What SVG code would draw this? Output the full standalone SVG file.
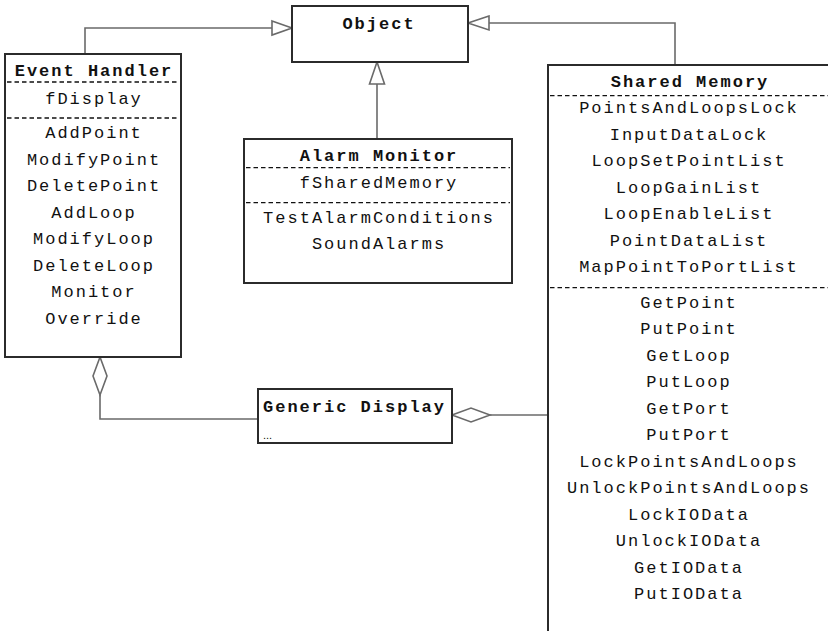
<svg xmlns="http://www.w3.org/2000/svg" width="828" height="631" viewBox="0 0 828 631">
  <style>
    .box { fill: #ffffff; stroke: #2b2b2b; stroke-width: 2; }
    .sep { stroke: #111111; stroke-width: 1.3; stroke-dasharray: 4.5 3; }
    .conn { fill: none; stroke: #6a6a6a; stroke-width: 1.6; }
    .head { fill: #ffffff; stroke: #6a6a6a; stroke-width: 1.6; stroke-linejoin: miter; }
    text { font-family: "Liberation Mono", "DejaVu Sans Mono", monospace; font-size: 17px; letter-spacing: 2px; fill: #111111; }
    .title { font-weight: bold; }
    .c { text-anchor: middle; }
    .etc { font-family: "Liberation Sans", Arial, sans-serif; font-size: 11px; letter-spacing: 0; }
  </style>
  <rect x="0" y="0" width="828" height="631" fill="#ffffff"/>

  <!-- connectors: generalizations to Object and aggregations to Generic Display -->
  <g id="connectors">
    <polyline class="conn" points="85,54 85,28 272,28"/>
    <polygon class="head" points="272,21 292,28 272,35"/>

    <polyline class="conn" points="489,23 675,23 675,65"/>
    <polygon class="head" points="489,16 468,23 489,30"/>

    <line class="conn" x1="377" y1="84" x2="377" y2="139"/>
    <polygon class="head" points="369.5,84 377,62 384.5,84"/>

    <polyline class="conn" points="100,395 100,419 258,419"/>
    <polygon class="head" points="100,357 107,376 100,395 93,376"/>

    <line class="conn" x1="490" y1="415" x2="548" y2="415"/>
    <polygon class="head" points="452,415 471,408 490,415 471,422"/>
  </g>

  <!-- Object -->
  <g id="object">
    <rect class="box" x="292" y="6" width="176" height="56"/>
    <text class="title c" x="379" y="28.5">Object</text>
  </g>

  <!-- Event Handler -->
  <g id="event-handler">
    <rect class="box" x="5" y="54" width="176" height="303"/>
    <text class="title c" x="94" y="76">Event Handler</text>
    <line class="sep" x1="7" y1="82" x2="179" y2="82"/>
    <text class="c" x="94" y="103.5">fDisplay</text>
    <line class="sep" x1="7" y1="118" x2="179" y2="118"/>
    <text class="c" x="94" y="138.3">AddPoint</text>
    <text class="c" x="94" y="164.8">ModifyPoint</text>
    <text class="c" x="94" y="191.3">DeletePoint</text>
    <text class="c" x="94" y="217.8">AddLoop</text>
    <text class="c" x="94" y="244.3">ModifyLoop</text>
    <text class="c" x="94" y="270.8">DeleteLoop</text>
    <text class="c" x="94" y="297.3">Monitor</text>
    <text class="c" x="94" y="323.8">Override</text>
  </g>

  <!-- Alarm Monitor -->
  <g id="alarm-monitor">
    <rect class="box" x="244" y="139" width="268" height="144"/>
    <text class="title c" x="379" y="160.7">Alarm Monitor</text>
    <line class="sep" x1="246" y1="167.7" x2="510" y2="167.7"/>
    <text class="c" x="379" y="187.5">fSharedMemory</text>
    <line class="sep" x1="246" y1="202.7" x2="510" y2="202.7"/>
    <text class="c" x="379" y="222.5">TestAlarmConditions</text>
    <text class="c" x="379" y="249">SoundAlarms</text>
  </g>

  <!-- Generic Display -->
  <g id="generic-display">
    <rect class="box" x="258" y="389" width="194" height="54"/>
    <text class="title" x="263" y="411.7">Generic Display</text>
    <text class="etc" x="263" y="439">...</text>
  </g>

  <!-- Shared Memory (runs past the right and bottom edges) -->
  <g id="shared-memory">
    <rect class="box" x="548" y="65" width="300" height="600"/>
    <text class="title c" x="690" y="87.3">Shared Memory</text>
    <line class="sep" x1="550" y1="95.7" x2="828" y2="95.7"/>
    <text class="c" x="689" y="113.3">PointsAndLoopsLock</text>
    <text class="c" x="689" y="139.8">InputDataLock</text>
    <text class="c" x="689" y="166.3">LoopSetPointList</text>
    <text class="c" x="689" y="192.8">LoopGainList</text>
    <text class="c" x="689" y="219.3">LoopEnableList</text>
    <text class="c" x="689" y="245.8">PointDataList</text>
    <text class="c" x="689" y="272.3">MapPointToPortList</text>
    <line class="sep" x1="550" y1="287.7" x2="828" y2="287.7"/>
    <text class="c" x="689" y="307.7">GetPoint</text>
    <text class="c" x="689" y="334.2">PutPoint</text>
    <text class="c" x="689" y="360.7">GetLoop</text>
    <text class="c" x="689" y="387.2">PutLoop</text>
    <text class="c" x="689" y="413.7">GetPort</text>
    <text class="c" x="689" y="440.2">PutPort</text>
    <text class="c" x="689" y="466.7">LockPointsAndLoops</text>
    <text class="c" x="689" y="493.2">UnlockPointsAndLoops</text>
    <text class="c" x="689" y="519.7">LockIOData</text>
    <text class="c" x="689" y="546.2">UnlockIOData</text>
    <text class="c" x="689" y="572.7">GetIOData</text>
    <text class="c" x="689" y="599.2">PutIOData</text>
  </g>
</svg>
